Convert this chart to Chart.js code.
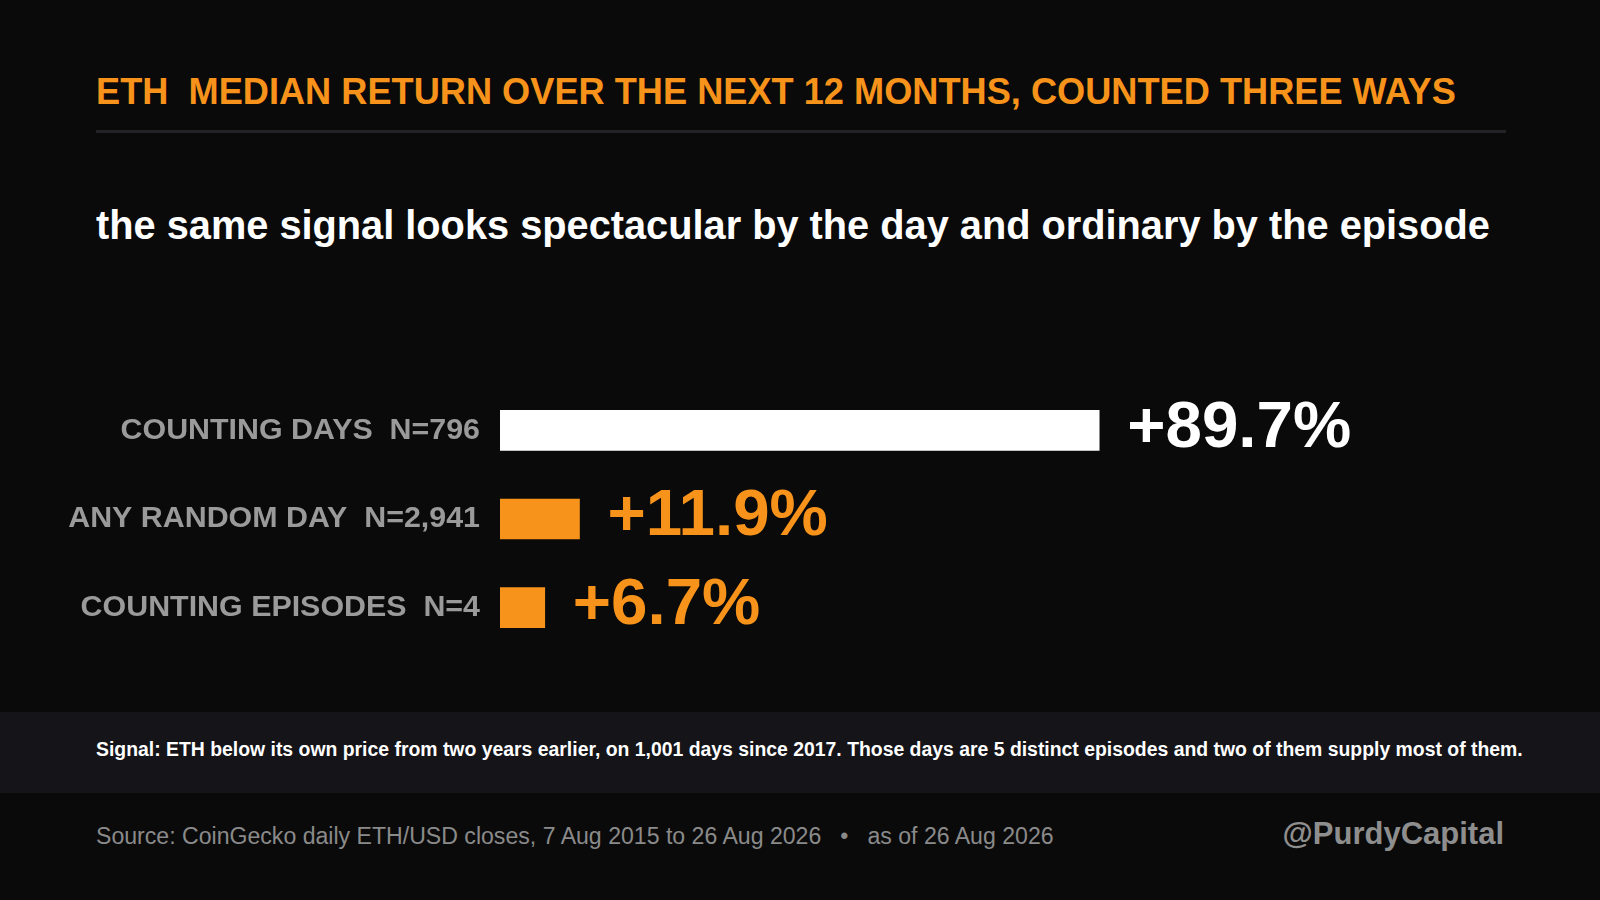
<!DOCTYPE html>
<html>
<head>
<meta charset="utf-8">
<script src="https://cdn.jsdelivr.net/npm/chart.js@4.4.1/dist/chart.umd.min.js"></script>
<style>
  html, body { margin: 0; padding: 0; background: #0a0a0a; }
  body { width: 1600px; height: 900px; position: relative; overflow: hidden; font-family: "Liberation Sans", Arial, sans-serif; }
  .t { position: absolute; white-space: pre; line-height: 1; }
  #title { left: 96px; top: 73.5px; font-size: 36.2px; font-weight: bold; color: #F7931A; }
  #rule { position: absolute; left: 96px; width: 1410px; top: 130px; height: 3px; background: #222227; }
  #subtitle { left: 96px; top: 206px; font-size: 39.75px; font-weight: bold; color: #ffffff; }
  #band { position: absolute; left: 0; width: 1600px; top: 712px; height: 81px; background: #141419; }
  #signal { left: 96px; top: 740.3px; font-size: 19.4px; font-weight: bold; color: #ffffff; }
  #source { left: 96px; top: 824.5px; font-size: 23.1px; color: #8a8a8a; }
  #source .dot { margin: 0 19px; }
  #handle { right: 96px; top: 817.8px; font-size: 31px; font-weight: bold; color: #8e8e8e; }
  #chart { position: absolute; left: 0; top: 380px; }
</style>
</head>
<body>
<div class="t" id="title">ETH  MEDIAN RETURN OVER THE NEXT 12 MONTHS, COUNTED THREE WAYS</div>
<div id="rule"></div>
<div class="t" id="subtitle">the same signal looks spectacular by the day and ordinary by the episode</div>
<canvas id="chart" width="1600" height="280"></canvas>
<div id="band"></div>
<div class="t" id="signal">Signal: ETH below its own price from two years earlier, on 1,001 days since 2017. Those days are 5 distinct episodes and two of them supply most of them.</div>
<div class="t" id="source">Source: CoinGecko daily ETH/USD closes, 7 Aug 2015 to 26 Aug 2026<span class="dot">•</span>as of 26 Aug 2026</div>
<div class="t" id="handle">@PurdyCapital</div>
<script>
const categories = ["COUNTING DAYS  N=796", "ANY RANDOM DAY  N=2,941", "COUNTING EPISODES  N=4"];
const medianReturns = [89.7, 11.9, 6.7];
const valueLabels = ["+89.7%", "+11.9%", "+6.7%"];

const barColors = ["#ffffff", "#F7931A", "#F7931A"];
const FONT = "'Liberation Sans', Arial, sans-serif";

const valueLabelPlugin = {
  id: "valueLabels",
  afterDatasetsDraw(chart) {
    const ctx = chart.ctx;
    const meta = chart.getDatasetMeta(0);
    ctx.save();
    ctx.font = "bold 65.5px " + FONT;
    ctx.textAlign = "left";
    ctx.textBaseline = "alphabetic";
    meta.data.forEach((bar, i) => {
      ctx.fillStyle = barColors[i];
      ctx.fillText(valueLabels[i], bar.x + 28, bar.y + 16.3);
    });
    ctx.restore();
  }
};

new Chart(document.getElementById("chart"), {
  type: "bar",
  data: {
    labels: categories,
    datasets: [{
      data: medianReturns,
      backgroundColor: barColors,
      borderWidth: 0,
      barThickness: 40
    }]
  },
  options: {
    indexAxis: "y",
    responsive: false,
    animation: false,
    devicePixelRatio: 1,
    layout: { padding: { top: 6, bottom: 8, left: 0, right: 432 } },
    scales: {
      x: { display: false, min: 0, max: 100 },
      y: {
        grid: { display: false, drawTicks: false },
        border: { display: false },
        ticks: { color: "#9a9a9a", padding: 20, font: { family: FONT, size: 30.4, weight: "bold" } },
        afterFit(scale) {
          scale.width = 500;
          scale.paddingTop = 0;
          scale.paddingBottom = 0;
        }
      }
    },
    plugins: { legend: { display: false }, tooltip: { enabled: false } }
  },
  plugins: [valueLabelPlugin]
});
</script>
</body>
</html>
